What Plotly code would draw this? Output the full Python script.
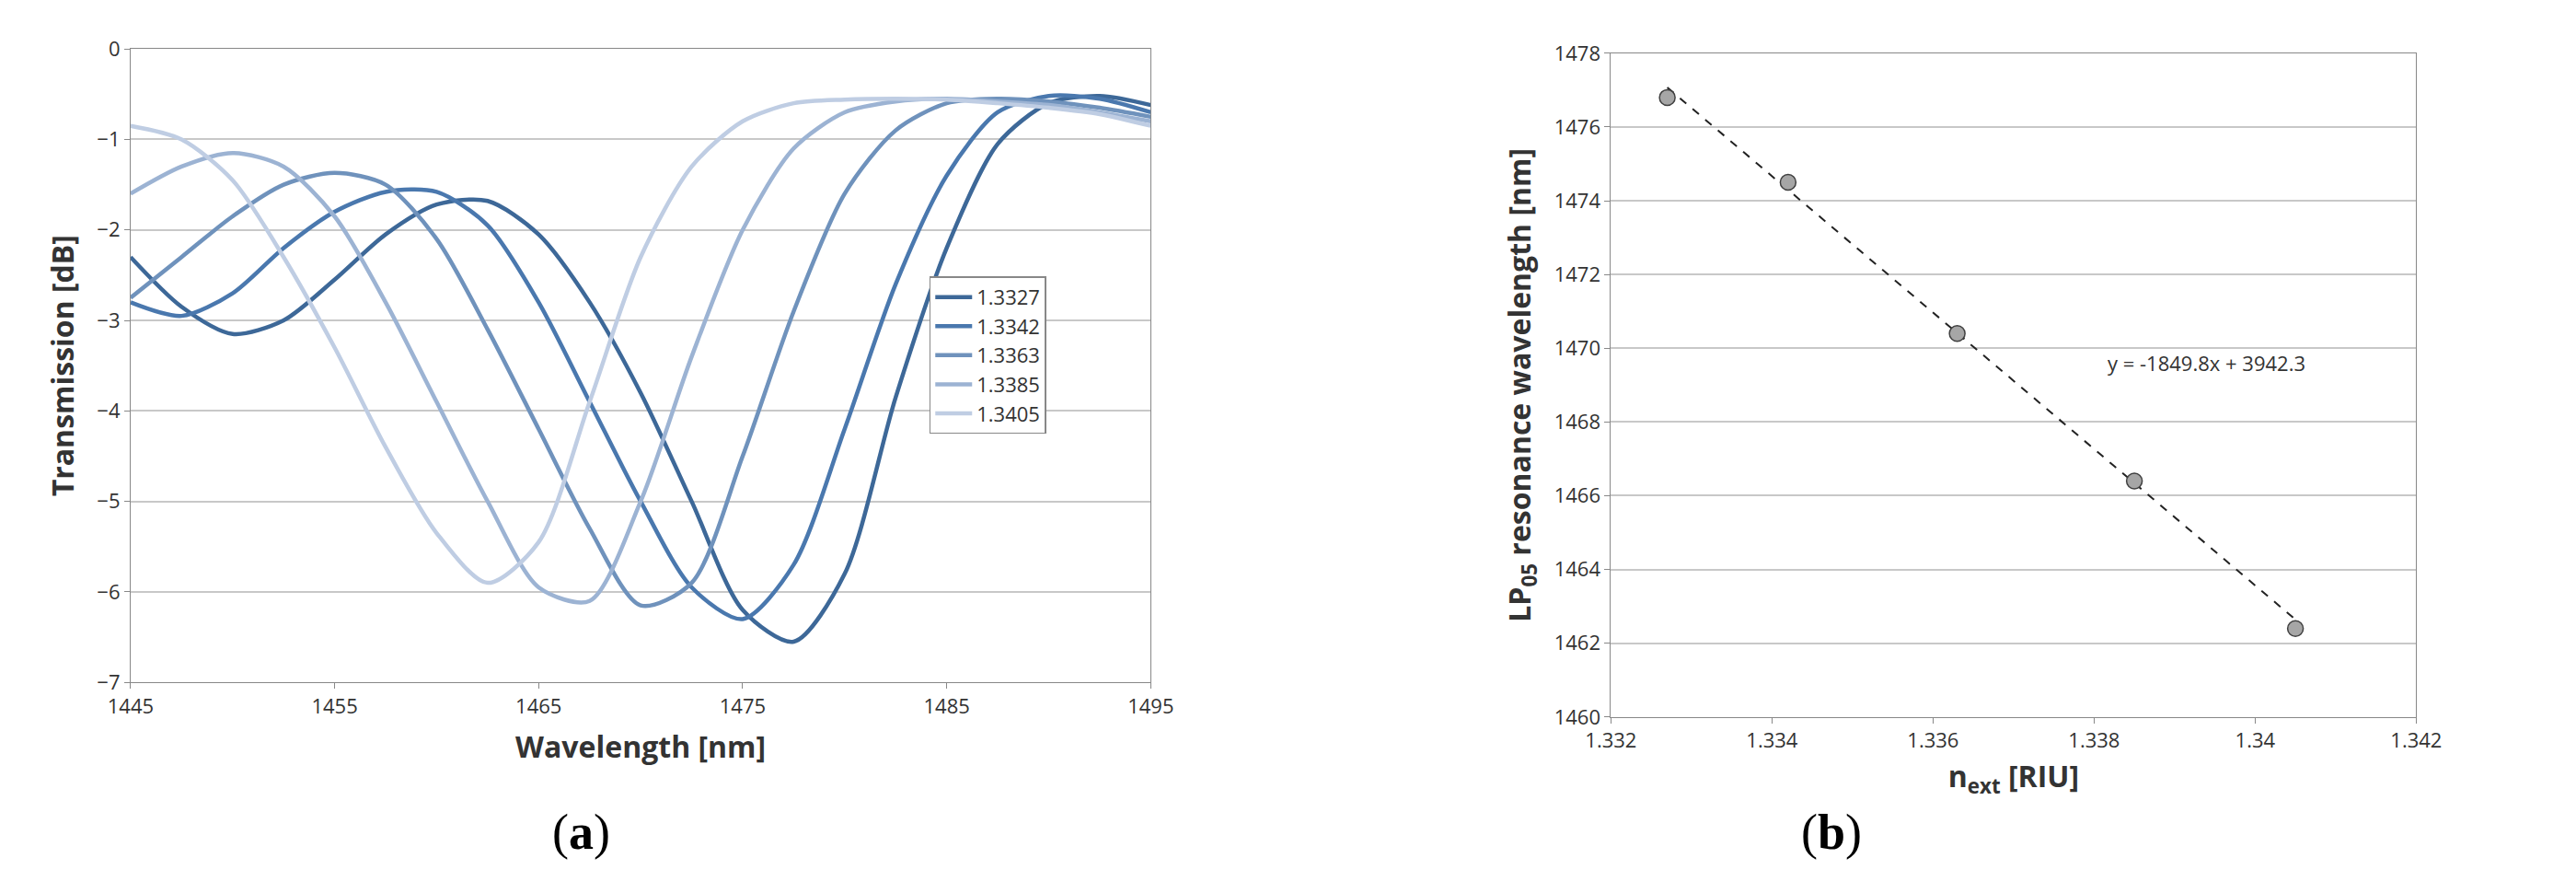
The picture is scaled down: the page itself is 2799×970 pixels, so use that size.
import plotly.graph_objects as go

wl = [1445, 1447.5, 1450, 1452.5, 1455, 1457.5, 1460, 1462.5, 1465, 1467.5, 1470,
      1472.5, 1475, 1477.5, 1480, 1482.5, 1485, 1487.5, 1490, 1492.5, 1495]
t_13327 = [-2.3, -2.85, -3.15, -3.0, -2.55, -2.05, -1.72, -1.68, -2.05, -2.8, -3.8,
           -5.0, -6.2, -6.55, -5.8, -3.85, -2.2, -1.05, -0.6, -0.52, -0.62]
t_13342 = [-2.8, -2.95, -2.7, -2.2, -1.8, -1.58, -1.58, -1.95, -2.8, -3.9, -5.0,
           -5.95, -6.3, -5.7, -4.2, -2.6, -1.4, -0.7, -0.52, -0.55, -0.7]
t_13363 = [-2.75, -2.3, -1.85, -1.5, -1.37, -1.5, -2.1, -3.1, -4.2, -5.3, -6.15,
           -5.9, -4.5, -2.9, -1.6, -0.9, -0.6, -0.55, -0.58, -0.65, -0.75]
t_13385 = [-1.6, -1.3, -1.15, -1.3, -1.85, -2.8, -3.9, -5.0, -5.95, -6.1, -5.0,
           -3.4, -2.0, -1.1, -0.7, -0.58, -0.55, -0.58, -0.62, -0.7, -0.8]
t_13405 = [-0.85, -1.0, -1.45, -2.3, -3.3, -4.4, -5.35, -5.9, -5.45, -3.9, -2.3,
           -1.3, -0.8, -0.6, -0.56, -0.55, -0.56, -0.6, -0.65, -0.72, -0.85]
series_names = ["1.3327", "1.3342", "1.3363", "1.3385", "1.3405"]
series_vals = [t_13327, t_13342, t_13363, t_13385, t_13405]
colors = ["#3D6898", "#4A78AE", "#6F92BC", "#9CB3D3", "#BFCDE3"]

n_ext = [1.3327, 1.3342, 1.3363, 1.3385, 1.3405]
lp05 = [1476.8, 1474.5, 1470.4, 1466.4, 1462.4]
slope, intercept = -1849.8, 3942.3

font = "Open Sans"
fig = go.Figure()
for name, vals, c in zip(series_names, series_vals, colors):
    fig.add_trace(go.Scatter(x=wl, y=vals, name=name, mode="lines",
                             line=dict(color=c, width=4.5, shape="spline", smoothing=0.8),
                             xaxis="x", yaxis="y"))

fx = [n_ext[0], n_ext[-1]]
fig.add_trace(go.Scatter(x=fx, y=[slope * v + intercept for v in fx], mode="lines",
                         line=dict(color="#222", width=2, dash="dash"),
                         showlegend=False, xaxis="x2", yaxis="y2"))
fig.add_trace(go.Scatter(x=n_ext, y=lp05, mode="markers", showlegend=False,
                         marker=dict(size=17, color="#A6A6A6", line=dict(color="#404040", width=1.5)),
                         xaxis="x2", yaxis="y2"))

ax = dict(showline=True, linecolor="#888", mirror=True, ticks="outside", ticklen=6,
          tickcolor="#888", tickfont=dict(family=font, size=22, color="#333"), zeroline=False)
fig.update_layout(
    width=2799, height=970, margin=dict(l=0, r=0, t=0, b=0),
    paper_bgcolor="white", plot_bgcolor="white",
    font=dict(family=font),
    xaxis=dict(domain=[0.0386, 0.4427], range=[1445, 1495], tickvals=[1445, 1455, 1465, 1475, 1485, 1495],
               showgrid=False, anchor="y",
               title=dict(text="<b>Wavelength [nm]</b>", font=dict(size=32, color="#333"), standoff=20), **ax),
    yaxis=dict(domain=[0.237, 0.969], range=[-7, 0], dtick=1, showgrid=True, gridcolor="#C8C8C8",
               gridwidth=1.5, anchor="x",
               title=dict(text="<b>Transmission [dB]</b>", font=dict(size=32, color="#333"), standoff=15), **ax),
    xaxis2=dict(domain=[0.625, 0.944], range=[1.332, 1.342], dtick=0.002, showgrid=False, anchor="y2",
                tickvals=[1.332, 1.334, 1.336, 1.338, 1.34, 1.342],
                ticktext=["1.332", "1.334", "1.336", "1.338", "1.34", "1.342"],
                title=dict(text="<b>n<sub>ext</sub> [RIU]</b>", font=dict(size=32, color="#333"), standoff=15), **ax),
    yaxis2=dict(domain=[0.197, 0.964], range=[1460, 1478], dtick=2, showgrid=True, gridcolor="#C8C8C8",
                gridwidth=1.5, anchor="x2",
                title=dict(text="<b>LP<sub>05</sub> resonance wavelength [nm]</b>", font=dict(size=32, color="#333"),
                           standoff=15), **ax),
    legend=dict(x=0.355, y=0.706, xanchor="left", yanchor="top", bgcolor="white",
                bordercolor="#888", borderwidth=1.5, font=dict(family=font, size=22, color="#333"),
                tracegroupgap=0, itemwidth=40),
    annotations=[
        dict(x=1.3394, y=1469.6, xref="x2", yref="y2", text="y = -1849.8x + 3942.3", showarrow=False,
             font=dict(family=font, size=22, color="#333")),
        dict(x=0.205, y=0.03, xref="paper", yref="paper", yanchor="bottom", text="(<b>a</b>)", showarrow=False,
             font=dict(family="Liberation Serif", size=54, color="black")),
        dict(x=0.725, y=0.03, xref="paper", yref="paper", yanchor="bottom", text="(<b>b</b>)", showarrow=False,
             font=dict(family="Liberation Serif", size=54, color="black")),
    ],
)
fig.write_html("out.html")
